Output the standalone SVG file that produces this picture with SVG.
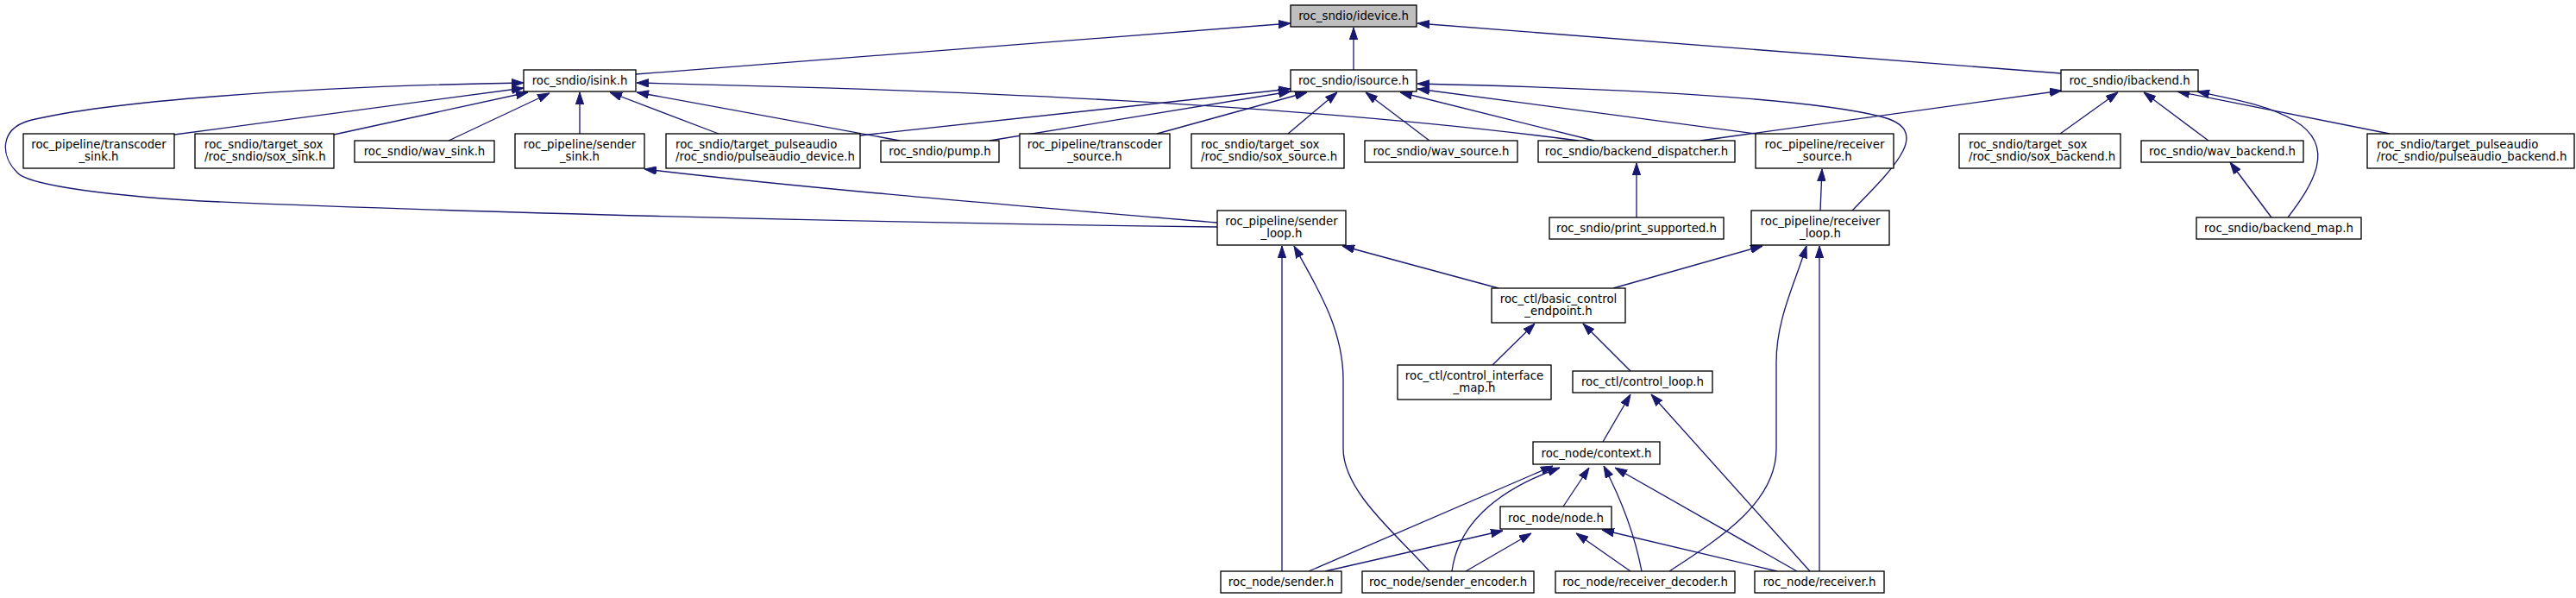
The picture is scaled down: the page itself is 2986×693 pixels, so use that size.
<svg xmlns="http://www.w3.org/2000/svg" width="2986" height="693" viewBox="0 0 2986 693">
<style>
.n rect{fill:#ffffff;stroke:#000000;stroke-width:1.33}
.n.root rect{fill:#bfbfbf}
.n text{font-family:"DejaVu Sans","Liberation Sans",sans-serif;font-size:13.33px;fill:#000000}
.c{text-anchor:middle}
.l{text-anchor:start}
#edges path{fill:none;stroke:#191970;stroke-width:1.33;marker-end:url(#ah)}
</style>
<defs>
<marker id="ah" viewBox="0 0 14 10" refX="14" refY="5" markerWidth="14" markerHeight="10" markerUnits="userSpaceOnUse" orient="auto">
<path d="M0,0.3 L14,5 L0,9.7 z" fill="#191970" stroke="#191970" stroke-width="1"/>
</marker>
</defs>
<rect x="0" y="0" width="2986" height="693" fill="#ffffff"/>
<g id="edges">
<path d="M737,86 L1496,27"/>
<path d="M1569,81 L1569,32"/>
<path d="M2389,85 L1643,27"/>
<path d="M202,156 L607,102"/>
<path d="M387,156 L612,107"/>
<path d="M520,163 L637,108"/>
<path d="M672,155 L672,107"/>
<path d="M833,155 L707,107"/>
<path d="M1043,163 L738,107"/>
<path d="M1830,163 C1500,120 1100,104 738,96"/>
<path d="M1411,263 C1000,258 500,245 233,233 C100,225 30,212 20,200 C0,180 0,150 33,140 C120,118 350,100 607,96"/>
<path d="M997,157 L1496,103"/>
<path d="M1147,163 L1496,106"/>
<path d="M1341,155 L1515,107"/>
<path d="M1493,155 L1550,107"/>
<path d="M1657,163 L1583,107"/>
<path d="M1848,163 L1623,107"/>
<path d="M2035,155 L1643,103"/>
<path d="M2147,244 C2200,190 2240,150 2180,135 C2100,115 1900,103 1643,97"/>
<path d="M1971,163 L2390,105"/>
<path d="M2388,155 L2455,107"/>
<path d="M2560,163 L2485,107"/>
<path d="M2770,155 L2524,106"/>
<path d="M2652,252 C2680,215 2710,170 2660,140 C2630,122 2590,115 2547,106"/>
<path d="M2633,252 L2585,188"/>
<path d="M1897,252 L1897,189"/>
<path d="M2110,244 L2112,196"/>
<path d="M1411,258 C1200,240 950,220 747,196"/>
<path d="M1737,334 L1556,285"/>
<path d="M1870,334 L2043,285"/>
<path d="M1730,423 L1779,375"/>
<path d="M1890,430 L1835,375"/>
<path d="M1858,512 L1890,457"/>
<path d="M2098,662 L1914,457"/>
<path d="M1486,662 L1486,285"/>
<path d="M1657,662 C1620,620 1557,570 1557,520 L1557,440 C1557,380 1525,330 1500,285"/>
<path d="M1935,662 C2000,620 2059,580 2059,520 L2059,420 C2059,370 2080,330 2094,285"/>
<path d="M2109,662 L2109,285"/>
<path d="M1517,662 L1800,540"/>
<path d="M1683,662 C1690,610 1730,570 1808,542"/>
<path d="M1812,587 L1842,542"/>
<path d="M1903,662 C1895,620 1880,580 1859,540"/>
<path d="M2083,662 L1872,542"/>
<path d="M1536,662 L1742,615"/>
<path d="M1699,662 L1775,618"/>
<path d="M1890,662 L1827,618"/>
<path d="M2060,662 L1857,614"/>
</g>
<g id="idevice" class="n root"><rect x="1496" y="6" width="146" height="25"/><text class="c" x="1569" y="23">roc_sndio/idevice.h</text></g>
<g id="isink" class="n"><rect x="607" y="81" width="130" height="25"/><text class="c" x="672" y="98">roc_sndio/isink.h</text></g>
<g id="isource" class="n"><rect x="1496" y="81" width="146" height="25"/><text class="c" x="1569" y="98">roc_sndio/isource.h</text></g>
<g id="ibackend" class="n"><rect x="2389" y="81" width="159" height="25"/><text class="c" x="2468.5" y="98">roc_sndio/ibackend.h</text></g>
<g id="transcoder_sink" class="n"><rect x="27" y="155" width="175" height="40"/><text class="c" x="114.5" y="171.5">roc_pipeline/transcoder</text><text class="c" x="114.5" y="186">_sink.h</text></g>
<g id="sox_sink" class="n"><rect x="226" y="155" width="161" height="40"/><text class="l" x="237" y="171.5">roc_sndio/target_sox</text><text class="l" x="237" y="186">/roc_sndio/sox_sink.h</text></g>
<g id="wav_sink" class="n"><rect x="411" y="163" width="162" height="25"/><text class="c" x="492" y="180">roc_sndio/wav_sink.h</text></g>
<g id="sender_sink" class="n"><rect x="597" y="155" width="150" height="40"/><text class="c" x="672" y="171.5">roc_pipeline/sender</text><text class="c" x="672" y="186">_sink.h</text></g>
<g id="pulseaudio_device" class="n"><rect x="772" y="155" width="225" height="40"/><text class="l" x="783" y="171.5">roc_sndio/target_pulseaudio</text><text class="l" x="783" y="186">/roc_sndio/pulseaudio_device.h</text></g>
<g id="pump" class="n"><rect x="1021" y="163" width="137" height="25"/><text class="c" x="1089.5" y="180">roc_sndio/pump.h</text></g>
<g id="transcoder_source" class="n"><rect x="1182" y="155" width="174" height="40"/><text class="c" x="1269" y="171.5">roc_pipeline/transcoder</text><text class="c" x="1269" y="186">_source.h</text></g>
<g id="sox_source" class="n"><rect x="1381" y="155" width="177" height="40"/><text class="l" x="1392" y="171.5">roc_sndio/target_sox</text><text class="l" x="1392" y="186">/roc_sndio/sox_source.h</text></g>
<g id="wav_source" class="n"><rect x="1582" y="163" width="177" height="25"/><text class="c" x="1670.5" y="180">roc_sndio/wav_source.h</text></g>
<g id="backend_dispatcher" class="n"><rect x="1783" y="163" width="228" height="25"/><text class="c" x="1897" y="180">roc_sndio/backend_dispatcher.h</text></g>
<g id="receiver_source" class="n"><rect x="2035" y="155" width="160" height="40"/><text class="c" x="2115" y="171.5">roc_pipeline/receiver</text><text class="c" x="2115" y="186">_source.h</text></g>
<g id="sox_backend" class="n"><rect x="2271" y="155" width="187" height="40"/><text class="l" x="2282" y="171.5">roc_sndio/target_sox</text><text class="l" x="2282" y="186">/roc_sndio/sox_backend.h</text></g>
<g id="wav_backend" class="n"><rect x="2482" y="163" width="188" height="25"/><text class="c" x="2576" y="180">roc_sndio/wav_backend.h</text></g>
<g id="pulseaudio_backend" class="n"><rect x="2744" y="155" width="240" height="40"/><text class="l" x="2755" y="171.5">roc_sndio/target_pulseaudio</text><text class="l" x="2755" y="186">/roc_sndio/pulseaudio_backend.h</text></g>
<g id="sender_loop" class="n"><rect x="1411" y="244" width="149" height="40"/><text class="c" x="1485.5" y="260.5">roc_pipeline/sender</text><text class="c" x="1485.5" y="275">_loop.h</text></g>
<g id="print_supported" class="n"><rect x="1796" y="252" width="202" height="25"/><text class="c" x="1897" y="269">roc_sndio/print_supported.h</text></g>
<g id="receiver_loop" class="n"><rect x="2030" y="244" width="160" height="40"/><text class="c" x="2110" y="260.5">roc_pipeline/receiver</text><text class="c" x="2110" y="275">_loop.h</text></g>
<g id="backend_map" class="n"><rect x="2546" y="252" width="191" height="25"/><text class="c" x="2641.5" y="269">roc_sndio/backend_map.h</text></g>
<g id="basic_control_endpoint" class="n"><rect x="1729" y="334" width="155" height="40"/><text class="c" x="1806.5" y="350.5">roc_ctl/basic_control</text><text class="c" x="1806.5" y="365">_endpoint.h</text></g>
<g id="control_interface_map" class="n"><rect x="1620" y="423" width="178" height="40"/><text class="c" x="1709" y="439.5">roc_ctl/control_interface</text><text class="c" x="1709" y="454">_map.h</text></g>
<g id="control_loop" class="n"><rect x="1823" y="430" width="162" height="25"/><text class="c" x="1904" y="447">roc_ctl/control_loop.h</text></g>
<g id="context" class="n"><rect x="1777" y="512" width="147" height="26"/><text class="c" x="1850.5" y="529.5">roc_node/context.h</text></g>
<g id="node" class="n"><rect x="1739" y="587" width="129" height="26"/><text class="c" x="1803.5" y="604.5">roc_node/node.h</text></g>
<g id="sender" class="n"><rect x="1415" y="662" width="140" height="25"/><text class="c" x="1485" y="679">roc_node/sender.h</text></g>
<g id="sender_encoder" class="n"><rect x="1579" y="662" width="199" height="25"/><text class="c" x="1678.5" y="679">roc_node/sender_encoder.h</text></g>
<g id="receiver_decoder" class="n"><rect x="1803" y="662" width="208" height="25"/><text class="c" x="1907" y="679">roc_node/receiver_decoder.h</text></g>
<g id="receiver" class="n"><rect x="2034" y="662" width="150" height="25"/><text class="c" x="2109" y="679">roc_node/receiver.h</text></g>
</svg>
